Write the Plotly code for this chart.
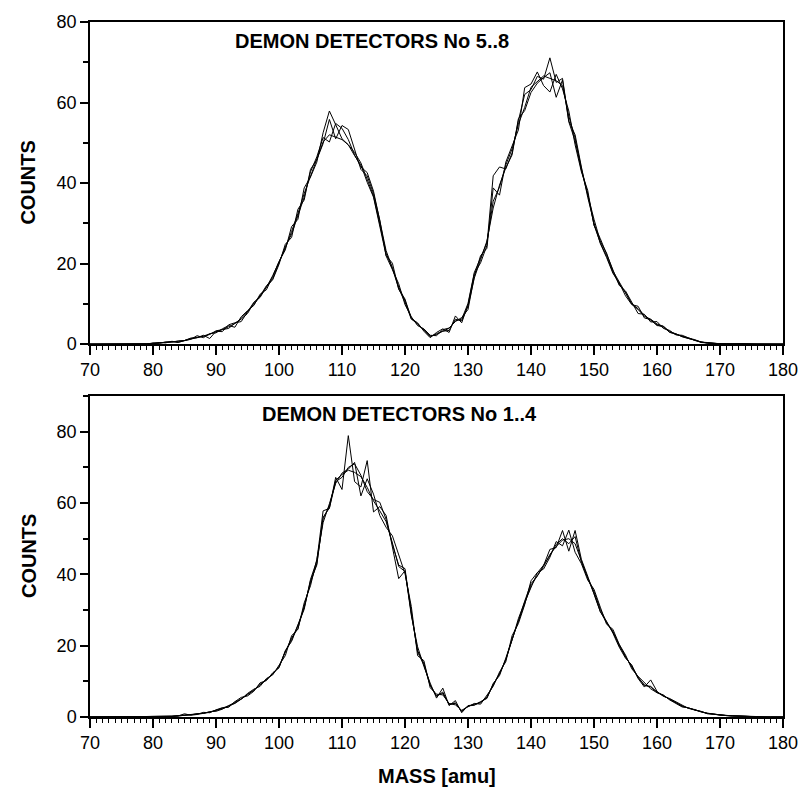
import plotly.graph_objects as go

mass = list(range(70, 181))

# Top panel: DEMON DETECTORS No 5..8 (four detectors)
top_d5 = [0, 0, 0, 0, 0, 0, 0, 0, 0, 0.1,
          0.2, 0.4, 0.3, 0.7, 0.5, 0.8, 1.2, 2.1, 1.6, 2.6,
          2.8, 3.8, 4.6, 4.2, 6.8, 8.3, 9.6, 12.4, 13.5, 16.8,
          20.5, 23.4, 29.2, 31.0, 38.8, 41.5, 45.2, 52.5, 57.9, 54.5,
          51.0, 49.5, 46.8, 44.5, 40.2, 36.5, 29.5, 22.0, 20.1, 13.6,
          11.2, 6.3, 5.3, 3.2, 1.6, 2.9, 3.8, 2.9, 7.0, 5.3,
          9.8, 17.5, 20.2, 24.5, 41.8, 44.0, 43.5, 47.5, 55.5, 62.0,
          63.2, 66.5, 65.8, 71.1, 65.0, 66.0, 55.4, 52.0, 44.0, 36.5,
          30.1, 25.0, 21.5, 17.6, 15.2, 12.0, 9.8, 9.4, 6.5, 6.1,
          4.6, 4.5, 2.9, 2.6, 1.8, 1.4, 1.0, 0.4, 0.3, 0.1,
          0.1, 0.1, 0, 0.1, 0, 0, 0, 0, 0, 0,
          0]
top_d6 = [0, 0, 0, 0, 0, 0, 0, 0, 0, 0,
          0.1, 0.3, 0.5, 0.5, 0.8, 0.9, 1.5, 1.6, 2.2, 1.4,
          3.2, 3.1, 4.8, 5.3, 5.6, 8.0, 10.4, 11.6, 14.2, 16.0,
          19.8, 24.8, 26.5, 33.5, 35.8, 43.4, 45.8, 49.8, 55.8, 51.0,
          54.3, 53.3, 48.2, 43.4, 41.8, 37.4, 30.8, 21.9, 18.5, 15.0,
          9.8, 6.8, 4.6, 3.8, 2.2, 2.1, 3.6, 4.0, 5.6, 6.6,
          8.6, 16.8, 22.0, 23.8, 38.8, 37.0, 45.2, 49.0, 53.2, 63.7,
          64.6, 67.6, 64.2, 62.6, 67.0, 63.4, 57.9, 49.5, 42.8, 38.2,
          29.5, 26.2, 22.4, 18.5, 14.6, 13.2, 10.3, 7.6, 7.4, 5.5,
          5.6, 3.9, 3.4, 2.3, 2.2, 1.6, 0.9, 0.6, 0.2, 0.2,
          0.1, 0, 0.1, 0, 0.1, 0, 0, 0, 0, 0,
          0]
top_d7 = [0, 0, 0, 0, 0, 0, 0, 0, 0.1, 0,
          0.3, 0.2, 0.5, 0.6, 0.4, 1.0, 1.4, 1.7, 1.9, 2.4,
          3.3, 3.6, 3.9, 5.2, 6.2, 7.6, 10.2, 12.0, 14.5, 16.2,
          20.2, 24.2, 27.3, 32.0, 36.5, 42.8, 46.5, 51.3, 50.2, 54.8,
          53.6, 50.8, 47.0, 44.0, 42.6, 38.0, 30.2, 23.2, 19.0, 14.2,
          10.8, 6.6, 4.9, 3.6, 2.0, 2.4, 3.2, 3.4, 6.2, 5.8,
          9.4, 16.4, 21.0, 25.6, 33.8, 39.5, 43.8, 47.0, 56.0, 58.0,
          62.5, 64.8, 66.2, 67.4, 61.3, 65.6, 55.2, 50.5, 43.2, 36.8,
          31.0, 25.6, 22.6, 18.2, 15.4, 12.6, 10.0, 8.8, 7.2, 5.9,
          4.8, 4.2, 3.0, 2.4, 2.0, 1.5, 1.1, 0.5, 0.3, 0.2,
          0, 0.1, 0.1, 0, 0, 0.1, 0, 0, 0, 0,
          0]
top_d8 = [0, 0, 0, 0, 0, 0, 0, 0, 0, 0,
          0.2, 0.3, 0.4, 0.5, 0.7, 0.9, 1.2, 1.6, 2.0, 2.5,
          3.0, 3.6, 4.3, 5.1, 6.4, 8.0, 9.8, 11.9, 14.1, 17.0,
          20.3, 23.8, 28.0, 32.4, 37.4, 41.8, 46.2, 50.2, 52.0, 51.3,
          50.8, 49.5, 47.6, 45.0, 40.8, 36.8, 29.8, 22.6, 18.8, 13.8,
          10.4, 6.2, 5.1, 3.4, 1.8, 2.6, 3.3, 3.9, 5.8, 6.2,
          10.1, 17.8, 21.4, 25.2, 35.5, 39.0, 44.5, 48.5, 54.6, 58.8,
          63.8, 65.2, 66.6, 66.0, 65.4, 64.2, 56.6, 51.2, 43.6, 37.4,
          29.6, 25.2, 21.8, 17.9, 14.9, 12.8, 9.9, 8.6, 6.9, 6.2,
          5.0, 4.4, 3.2, 2.5, 1.9, 1.4, 1.0, 0.5, 0.4, 0.2,
          0.1, 0.1, 0, 0.1, 0, 0, 0, 0, 0, 0,
          0]

# Bottom panel: DEMON DETECTORS No 1..4
bot_d1 = [0, 0, 0, 0, 0, 0, 0, 0, 0, 0,
          0.1, 0.1, 0.1, 0.2, 0.3, 0.9, 0.5, 0.7, 1.3, 1.2,
          2.0, 2.6, 2.7, 4.3, 5.5, 5.9, 7.2, 9.6, 10.2, 12.4,
          13.8, 18.6, 21.2, 25.5, 30.2, 38.6, 43.8, 57.8, 58.5, 67.2,
          63.8, 78.9, 66.0, 64.5, 71.9, 57.5, 59.0, 56.5, 47.5, 38.8,
          41.0, 28.5, 19.7, 14.2, 9.5, 5.3, 8.1, 3.2, 4.6, 1.2,
          3.2, 3.4, 4.3, 5.2, 9.4, 11.6, 16.5, 21.5, 27.0, 32.5,
          37.4, 39.5, 42.5, 47.0, 47.5, 52.3, 46.5, 52.3, 44.2, 39.5,
          34.5, 29.5, 26.8, 23.5, 19.6, 16.5, 14.6, 10.8, 8.4, 10.4,
          7.2, 5.8, 5.2, 4.2, 3.3, 2.4, 2.1, 1.4, 1.1, 0.7,
          0.5, 0.4, 0.3, 0.2, 0.2, 0.1, 0.1, 0, 0, 0,
          0]
bot_d2 = [0, 0, 0, 0, 0, 0, 0, 0, 0, 0.1,
          0.1, 0.1, 0.2, 0.2, 0.4, 0.4, 0.6, 0.9, 1.0, 1.5,
          1.6, 2.2, 3.2, 3.8, 5.0, 6.6, 7.8, 8.6, 10.8, 11.8,
          14.4, 17.2, 22.8, 24.6, 32.0, 36.8, 44.2, 54.5, 59.8, 65.5,
          68.4, 69.5, 71.4, 62.0, 66.8, 62.5, 56.5, 53.2, 50.8, 45.3,
          40.2, 31.0, 17.2, 15.8, 8.2, 6.4, 6.2, 3.8, 3.4, 1.9,
          2.8, 3.8, 3.6, 6.0, 8.6, 12.6, 15.5, 22.8, 26.2, 31.5,
          38.2, 40.5, 41.5, 44.8, 49.2, 48.0, 52.4, 46.2, 43.0, 38.4,
          35.8, 30.8, 26.0, 24.6, 20.4, 17.4, 13.5, 11.4, 9.6, 7.9,
          6.8, 6.2, 4.8, 3.9, 2.8, 2.6, 1.9, 1.6, 0.9, 0.8,
          0.6, 0.4, 0.3, 0.3, 0.2, 0.1, 0.1, 0.1, 0, 0,
          0]
bot_d3 = [0, 0, 0, 0, 0, 0, 0, 0, 0, 0,
          0.1, 0.1, 0.2, 0.2, 0.3, 0.5, 0.7, 0.8, 1.2, 1.3,
          1.9, 2.4, 3.1, 4.2, 5.0, 6.4, 7.4, 9.2, 10.4, 12.2,
          13.9, 18.4, 21.6, 25.8, 30.6, 38.2, 42.6, 56.0, 58.6, 66.0,
          67.2, 70.0, 71.0, 67.8, 63.2, 61.0, 60.2, 55.4, 48.4, 42.6,
          41.6, 29.0, 18.6, 15.0, 9.0, 5.8, 7.0, 3.4, 4.0, 1.5,
          3.1, 3.3, 4.2, 5.4, 9.2, 12.0, 16.2, 21.6, 27.6, 32.2,
          36.4, 40.4, 42.6, 45.2, 48.4, 50.0, 48.6, 50.6, 43.4, 39.2,
          34.6, 29.6, 26.4, 23.8, 20.2, 16.8, 14.2, 11.2, 8.8, 8.6,
          7.0, 6.0, 5.0, 4.0, 3.0, 2.5, 2.0, 1.5, 1.0, 0.8,
          0.5, 0.4, 0.3, 0.2, 0.2, 0.1, 0.1, 0, 0, 0,
          0]
bot_d4 = [0, 0, 0, 0, 0, 0, 0, 0, 0, 0,
          0.1, 0.1, 0.2, 0.2, 0.3, 0.4, 0.6, 0.8, 1.0, 1.4,
          1.8, 2.3, 3.0, 3.9, 5.1, 6.2, 7.6, 9.0, 10.6, 12.0,
          14.2, 18.0, 22.2, 24.8, 31.2, 37.6, 43.0, 55.6, 59.2, 66.4,
          68.0, 69.2, 68.6, 67.4, 64.4, 60.6, 57.8, 54.8, 48.8, 42.2,
          40.8, 29.8, 18.2, 14.6, 8.8, 6.0, 6.6, 3.6, 3.8, 1.6,
          3.0, 3.6, 4.0, 5.6, 8.8, 12.2, 16.0, 21.8, 26.8, 31.8,
          36.8, 39.6, 42.2, 45.6, 47.8, 49.6, 50.0, 48.6, 43.8, 39.0,
          35.2, 30.2, 26.6, 24.0, 20.0, 17.0, 13.8, 11.0, 9.0, 8.4,
          6.9, 6.0, 5.0, 4.1, 3.1, 2.5, 2.0, 1.5, 1.0, 0.8,
          0.5, 0.4, 0.3, 0.2, 0.2, 0.1, 0.1, 0, 0, 0,
          0]

x_ticks = [70, 80, 90, 100, 110, 120, 130, 140, 150, 160, 170, 180]
y_ticks = [0, 20, 40, 60, 80]
top_title = "DEMON DETECTORS No 5..8"
bot_title = "DEMON DETECTORS No 1..4"
x_label = "MASS [amu]"
y_label = "COUNTS"

FONT = "Liberation Sans, Arial, sans-serif"

fig = go.Figure()
for s in [top_d5, top_d6, top_d7, top_d8]:
    fig.add_trace(go.Scatter(x=mass, y=s, mode="lines", xaxis="x", yaxis="y",
                             line=dict(color="black", width=1), showlegend=False,
                             hoverinfo="skip"))
for s in [bot_d1, bot_d2, bot_d3, bot_d4]:
    fig.add_trace(go.Scatter(x=mass, y=s, mode="lines", xaxis="x2", yaxis="y2",
                             line=dict(color="black", width=1), showlegend=False,
                             hoverinfo="skip"))

xcommon = dict(range=[70, 180], tickvals=x_ticks, ticks="outside", ticklen=9,
               tickwidth=1.5, tickcolor="black", showline=True, linecolor="black",
               linewidth=1.5, mirror=True, showgrid=False, zeroline=False,
               tickfont=dict(family=FONT, size=18, color="black"),
               minor=dict(dtick=1, tick0=70, ticks="outside", ticklen=4,
                          tickwidth=1, tickcolor="black", showgrid=False))
ycommon = dict(tickvals=y_ticks, ticks="outside", ticklen=8,
               tickwidth=1.5, tickcolor="black", showline=True, linecolor="black",
               linewidth=1.5, mirror=True, showgrid=False, zeroline=False,
               tickfont=dict(family=FONT, size=18, color="black"),
               minor=dict(dtick=10, tick0=0, ticks="outside", ticklen=5,
                          tickwidth=1.5, tickcolor="black", showgrid=False))

top_dom = [0.5365, 1.0]
bot_dom = [0.0, 0.4618]

fig.update_layout(
    width=810, height=789,
    margin=dict(l=90, r=20, t=19, b=72),
    paper_bgcolor="white", plot_bgcolor="white",
    xaxis=dict(domain=[0, 1], anchor="y", **xcommon),
    yaxis=dict(domain=top_dom, anchor="x", range=[0, 80], **ycommon),
    xaxis2=dict(domain=[0, 1], anchor="y2", **xcommon),
    yaxis2=dict(domain=bot_dom, anchor="x2", range=[0, 90], **ycommon),
    annotations=[
        dict(text=top_title, x=92.7, y=75.4, xref="x", yref="y",
             xanchor="left", yanchor="middle", showarrow=False,
             font=dict(family=FONT, size=20, color="black", weight="bold")),
        dict(text=bot_title, x=97.0, y=84.9, xref="x2", yref="y2",
             xanchor="left", yanchor="middle", showarrow=False,
             font=dict(family=FONT, size=20, color="black", weight="bold")),
        dict(text=y_label, x=-0.0887, y=sum(top_dom) / 2, xref="paper", yref="paper",
             xanchor="center", yanchor="middle", textangle=-90, showarrow=False,
             font=dict(family=FONT, size=20, color="black", weight="bold")),
        dict(text=y_label, x=-0.0887, y=sum(bot_dom) / 2, xref="paper", yref="paper",
             xanchor="center", yanchor="middle", textangle=-90, showarrow=False,
             font=dict(family=FONT, size=20, color="black", weight="bold")),
        dict(text=x_label, x=0.5, y=-0.0845, xref="paper", yref="paper",
             xanchor="center", yanchor="middle", showarrow=False,
             font=dict(family=FONT, size=20, color="black", weight="bold")),
    ],
)

fig.write_html("out.html")
